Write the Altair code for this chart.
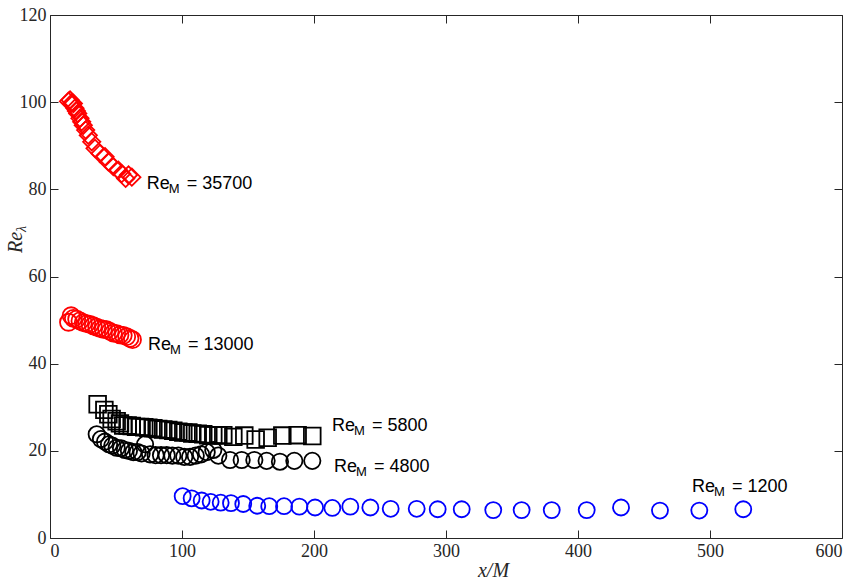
import altair as alt
import pandas as pd

# ---- data ----
# Re_M = 35700 (red diamonds)
x_35700 = [14.0, 15.2, 16.5, 17.7, 18.9, 20.0, 21.0, 22.7, 24.0, 25.2, 27.0, 29.0, 31.6,
           34.1, 37.9, 41.7, 44.2, 48.0, 51.8, 54.3, 57.3, 59.5, 62.0]
y_35700 = [100.2, 100.5, 99.8, 99.7, 98.6, 98.0, 97.4, 96.3, 95.5, 94.7, 93.6, 92.4, 90.9,
           89.4, 88.2, 87.5, 86.3, 85.2, 84.4, 83.6, 82.5, 83.3, 82.8]
# Re_M = 13000 (red circles)
x_13000 = [14.0, 16.0, 17.7, 20.2, 22.7, 25.2, 27.8, 30.3, 32.8, 35.4, 37.9, 40.4, 42.9,
           45.5, 48.0, 50.5, 53.0, 55.5, 58.1, 60.6, 62.5]
y_13000 = [49.5, 51.0, 50.4, 50.2, 49.8, 49.4, 49.2, 49.0, 48.7, 48.4, 48.1, 47.9, 47.8,
           47.4, 47.0, 46.9, 46.6, 46.5, 46.2, 45.8, 45.5]
# Re_M = 5800 (black squares)
x_5800 = [36.1, 41.2, 44.2, 46.7, 50.5, 53.0, 55.5, 58.8, 61.9, 65.2, 68.2, 71.4, 74.5,
          78.3, 82.0, 85.8, 89.6, 93.4, 97.2, 101.0, 104.8, 107.8, 111.9, 116.1, 119.9,
          123.7, 127.5, 131.3, 138.9, 147.2, 155.8, 164.9, 176.0, 187.6, 198.7]
y_5800 = [30.7, 29.4, 28.4, 27.3, 26.8, 26.3, 25.8, 25.8, 25.7, 25.5, 25.5, 25.4, 25.3,
          25.2, 25.0, 24.9, 24.8, 24.6, 24.4, 24.2, 24.2, 24.0, 23.9, 23.8, 23.6,
          23.6, 23.6, 23.6, 23.2, 23.5, 22.6, 23.0, 23.5, 23.6, 23.4]
# Re_M = 4800 (black circles)
x_4800 = [35.4, 38.6, 41.7, 44.7, 47.2, 50.5, 53.8, 56.8, 59.8, 63.1, 66.4, 69.4, 72.0,
          75.8, 80.0, 84.1, 88.4, 92.7, 97.2, 101.7, 106.1, 110.4, 114.4, 118.7, 123.7,
          127.5, 136.4, 145.2, 154.8, 164.1, 174.2, 185.1, 198.7]
y_4800 = [23.8, 22.7, 22.1, 21.5, 21.2, 20.7, 20.6, 20.2, 20.0, 19.7, 19.7, 19.4, 21.5,
          19.2, 19.0, 19.0, 19.0, 18.9, 18.9, 18.6, 18.6, 18.9, 19.2, 19.7, 20.2,
          18.9, 17.9, 17.9, 17.9, 17.7, 17.5, 17.7, 17.7]
# Re_M = 1200 (blue circles)
x_1200 = [100.5, 107.3, 114.9, 121.7, 129.3, 137.1, 146.4, 157.0, 166.1, 177.3, 188.9,
          200.8, 213.9, 227.5, 242.7, 258.1, 277.8, 293.7, 311.9, 335.8, 357.3, 380.1,
          406.6, 432.6, 462.1, 491.9, 525.2]
y_1200 = [9.6, 9.1, 8.6, 8.3, 8.1, 8.0, 7.8, 7.4, 7.3, 7.3, 7.2, 7.0, 6.9, 7.2, 7.0,
          6.7, 6.7, 6.6, 6.6, 6.4, 6.4, 6.4, 6.4, 7.0, 6.3, 6.3, 6.6]

series_names = ["35700", "13000", "5800", "4800", "1200"]
series_colors = ["#ff0000", "#ff0000", "#000000", "#000000", "#0000ff"]
series_shapes = ["diamond", "circle", "square", "circle", "circle"]
series_sizes = [300, 256, 169, 256, 210]

label_x = [73.3, 74.2, 213.6, 215.2, 486.4]
label_y = [80.0, 43.1, 24.5, 15.1, 10.55]
label_values = ["= 35700", "= 13000", "= 5800", "= 4800", "= 1200"]

x_ticks = [0, 100, 200, 300, 400, 500, 600]
y_ticks = [0, 20, 40, 60, 80, 100, 120]

# ---- tables ----
rows = []
for name, xs, ys in zip(series_names,
                        [x_35700, x_13000, x_5800, x_4800, x_1200],
                        [y_35700, y_13000, y_5800, y_4800, y_1200]):
    for xv, yv in zip(xs, ys):
        rows.append({"series": name, "x": xv, "y": yv})
df = pd.DataFrame(rows)

labels = pd.DataFrame({"lx": label_x, "ly": label_y, "re": ["Re"] * 5,
                       "sub": ["M"] * 5, "val": label_values})

AX = "#262626"
xscale = alt.Scale(domain=[0, 600], nice=False, zero=False)
yscale = alt.Scale(domain=[0, 120], nice=False, zero=False)

common_axis = dict(grid=False, domain=False, tickSize=8, offset=-8, tickColor=AX,
                   tickWidth=1, labelColor=AX, labelFont="Liberation Serif",
                   labelFontSize=18, labelPadding=4)

points = alt.Chart(df).mark_point(filled=False, strokeWidth=1.8, opacity=1).encode(
    x=alt.X("x:Q", scale=xscale,
            axis=alt.Axis(orient="bottom", values=x_ticks, title="x/M",
                          titleFont="Liberation Serif", titleFontStyle="italic",
                          titleFontWeight="normal", titleFontSize=20, titleColor=AX,
                          titlePadding=0, titleX=443, **common_axis)),
    y=alt.Y("y:Q", scale=yscale,
            axis=alt.Axis(orient="left", values=y_ticks, title=None, **common_axis)),
    color=alt.Color("series:N", scale=alt.Scale(domain=series_names, range=series_colors), legend=None),
    shape=alt.Shape("series:N", scale=alt.Scale(domain=series_names, range=series_shapes), legend=None),
    size=alt.Size("series:N", scale=alt.Scale(domain=series_names, range=series_sizes), legend=None),
)

mirror_axis = dict(common_axis)
mirror_axis["labels"] = False
ticks_mirror = alt.Chart(df).mark_point(opacity=0).encode(
    x=alt.X("x:Q", scale=xscale, axis=alt.Axis(orient="top", values=x_ticks, title=None, **mirror_axis)),
    y=alt.Y("y:Q", scale=yscale, axis=alt.Axis(orient="right", values=y_ticks, title=None, **mirror_axis)),
)

base_lab = alt.Chart(labels).encode(
    x=alt.X("lx:Q", scale=xscale, axis=None),
    y=alt.Y("ly:Q", scale=yscale, axis=None),
)
lab_re = base_lab.mark_text(align="left", baseline="alphabetic", font="Liberation Sans",
                            fontSize=18, color="#000000").encode(text="re:N")
lab_sub = base_lab.mark_text(align="left", baseline="alphabetic", font="Liberation Sans",
                             fontSize=13, dx=22, dy=4, color="#000000").encode(text="sub:N")
lab_val = base_lab.mark_text(align="left", baseline="alphabetic", font="Liberation Sans",
                             fontSize=18, dx=40, color="#000000").encode(text="val:N")

ytitle_df = pd.DataFrame({"t": ["Re"], "s": ["λ"]})
ytitle_re = alt.Chart(ytitle_df).mark_text(
    align="left", baseline="alphabetic", angle=270, font="Liberation Serif",
    fontStyle="italic", fontSize=20, color=AX
).encode(x=alt.value(-28), y=alt.value(238), text="t:N")
ytitle_sub = alt.Chart(ytitle_df).mark_text(
    align="left", baseline="alphabetic", angle=270, font="Liberation Serif",
    fontStyle="italic", fontSize=14, dx=21, dy=4, color=AX
).encode(x=alt.value(-28), y=alt.value(238), text="s:N")

chart = alt.layer(points, ticks_mirror, lab_re, lab_sub, lab_val, ytitle_re, ytitle_sub).resolve_axis(
    x="independent", y="independent"
).properties(
    width=792, height=523,
    padding={"left": 50, "top": 15, "right": 17, "bottom": 42},
    autosize=alt.AutoSizeParams(type="none"),
    background="white",
).configure_view(stroke=AX, strokeWidth=1)

chart.save("out.html", embed_options={"renderer": "svg", "actions": False})
